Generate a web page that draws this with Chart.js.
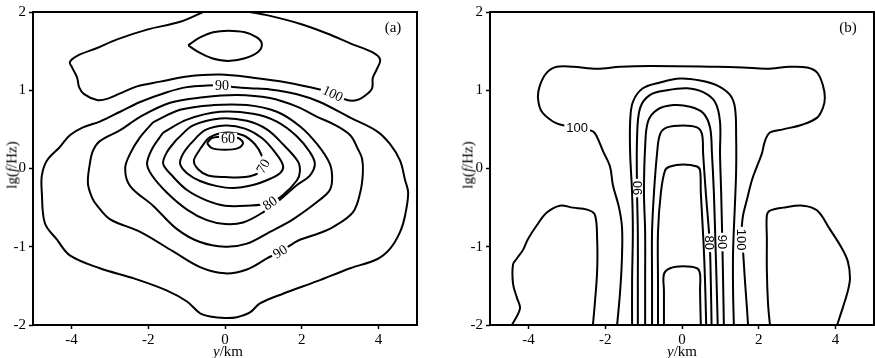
<!DOCTYPE html>
<html lang="en">
<head>
  <meta charset="UTF-8">
  <title>Contours (a) and (b)</title>
  <script src="https://cdn.jsdelivr.net/npm/chart.js"></script>
  <style>
    body { margin: 0; background: #fff; font-family: "Liberation Serif", "Times New Roman", serif; }
    #wrap { position: relative; width: 875px; height: 358px; overflow: hidden; }
    canvas { position: absolute; top: 0; }
    #chartA { left: 0; }
    #chartB { left: 437px; }
    .ttl { position: absolute; font-size: 15px; white-space: nowrap; transform: translate(-50%, -50%); color: #000; }
    .ttl.rot { transform: translate(-50%, -50%) rotate(-90deg); }
  </style>
</head>
<body>
<div id="wrap">
  <canvas id="chartA" width="437" height="358"></canvas>
  <canvas id="chartB" width="438" height="358"></canvas>
  <!-- axis titles and panel tags -->
  <div class="ttl rot" style="left:12px; top:165px;">lg(<i>f</i>/Hz)</div>
  <div class="ttl rot" style="left:468px; top:165px;">lg(<i>f</i>/Hz)</div>
  <div class="ttl" style="left:228px; top:351px;"><i>y</i>/km</div>
  <div class="ttl" style="left:682px; top:351px;"><i>y</i>/km</div>
  <div class="ttl" style="left:393px; top:27px;">(a)</div>
  <div class="ttl" style="left:848px; top:27px;">(b)</div>
</div>

<script>
  // Axis ticks (same for both panels)
  const xTicks = [-4, -2, 0, 2, 4];
  const yTicks = [-2, -1, 0, 1, 2];

  // ---- Panel (a): contour lines, points as [y km, lg f] ----
  const aBand = [[-0.57,2.0],[-1.17,1.875],[-2.03,1.775],[-2.81,1.65],[-3.33,1.54],[-3.85,1.44],[-4.04,1.36],[-3.98,1.29],
    [-3.85,1.16],[-3.80,1.04],[-3.67,0.95],[-3.33,0.875],[-3.07,0.89],[-2.73,0.96],[-2.29,1.05],[-1.69,1.11],[-0.99,1.175],
    [-0.13,1.2],[0.73,1.16],[1.61,1.10],[2.47,1.01],[2.81,0.96],[3.18,0.875],[3.44,0.875],[3.67,0.94],[3.83,1.025],[3.85,1.16],
    [3.96,1.275],[4.04,1.39],[3.88,1.475],[3.26,1.6],[2.66,1.725],[1.95,1.85],[1.09,1.96],[0.65,2.0]];
  const aCap = [[-0.96,1.575],[-0.65,1.675],[-0.31,1.74],[0.08,1.76],[0.52,1.74],[0.83,1.675],[0.96,1.59],[0.86,1.49],
    [0.52,1.41],[0.08,1.375],[-0.34,1.41],[-0.70,1.49]];
  const aOuter = [[0.21,1.04],[0.65,1.025],[1.17,1.01],[1.875,0.95],[2.47,0.85],[3.26,0.65],[3.96,0.475],[4.30,0.31],[4.56,0.10],
    [4.69,-0.15],[4.77,-0.31],[4.69,-0.60],[4.56,-0.81],[4.30,-1.025],[3.96,-1.16],[3.26,-1.275],[2.40,-1.44],[1.51,-1.60],
    [0.91,-1.725],[0.65,-1.84],[0.31,-1.90],[0.0,-1.91],[-0.39,-1.89],[-0.65,-1.85],[-0.99,-1.70],[-1.51,-1.56],[-2.40,-1.40],
    [-3.26,-1.275],[-4.04,-1.11],[-4.375,-0.91],[-4.69,-0.70],[-4.77,-0.31],[-4.77,-0.09],[-4.64,0.10],[-4.30,0.275],[-4.04,0.425],
    [-3.70,0.525],[-3.26,0.60],[-2.73,0.725],[-2.21,0.85],[-1.51,0.975],[-0.99,1.04],[-0.47,1.06],[-0.08,1.06]];
  const aRing2 = [[1.77,-0.96],[1.95,-0.91],[2.47,-0.825],[2.81,-0.75],[3.33,-0.56],[3.52,-0.31],[3.59,-0.06],[3.57,0.125],
    [3.46,0.25],[3.26,0.425],[2.81,0.57],[2.40,0.66],[1.875,0.79],[1.17,0.90],[0.31,0.94],[-0.57,0.91],[-1.43,0.84],[-2.21,0.66],
    [-2.73,0.49],[-3.26,0.35],[-3.44,0.225],[-3.52,0.06],[-3.57,-0.19],[-3.46,-0.375],[-3.33,-0.475],[-2.99,-0.65],[-2.21,-0.81],
    [-1.35,-1.06],[-0.65,-1.26],[0.0,-1.34],[0.57,-1.29],[1.09,-1.15],[1.43,-1.06]];
  const aRing3 = [[-1.875,0.59],[-1.17,0.75],[-0.31,0.81],[0.57,0.81],[1.35,0.725],[1.95,0.54],[2.40,0.31],[2.73,0.06],
    [2.79,-0.125],[2.73,-0.275],[2.47,-0.40],[1.77,-0.65],[1.17,-0.81],[0.57,-0.96],[0.0,-1.0],[-0.65,-0.94],[-1.25,-0.775],
    [-1.875,-0.475],[-2.47,-0.225],[-2.60,0.0],[-2.47,0.19],[-2.21,0.40]];
  const aRing4 = [[-1.61,0.46],[-0.99,0.625],[-0.13,0.725],[0.73,0.70],[1.35,0.60],[1.875,0.41],[2.21,0.21],[2.34,0.06],
    [2.21,-0.09],[1.875,-0.21],[1.43,-0.40],[0.99,-0.56],[0.47,-0.69],[0.0,-0.71],[-0.47,-0.66],[-0.99,-0.525],[-1.51,-0.31],
    [-1.90,-0.09],[-2.03,0.06],[-1.90,0.25]];
  const aRing5 = [[-1.25,0.375],[-0.83,0.55],[-0.13,0.64],[0.57,0.61],[1.09,0.50],[1.51,0.31],[1.90,0.09],[1.95,-0.04],
    [1.875,-0.15],[1.51,-0.34],[1.17,-0.44],[0.57,-0.475],[0.0,-0.475],[-0.47,-0.41],[-0.99,-0.275],[-1.38,-0.09],
    [-1.61,0.06],[-1.51,0.21]];
  const aRing6 = [[-0.91,0.31],[-0.52,0.49],[0.0,0.55],[0.52,0.51],[0.96,0.39],[1.30,0.21],[1.51,0.04],[1.43,-0.06],
    [1.09,-0.15],[0.73,-0.21],[0.21,-0.25],[-0.21,-0.225],[-0.65,-0.16],[-0.99,-0.06],[-1.17,0.06],[-1.09,0.19]];
  const aRing7 = [[-0.65,0.25],[-0.39,0.40],[0.05,0.46],[0.47,0.425],[0.78,0.31],[0.96,0.16],[0.99,0.04],[0.86,-0.06],
    [0.52,-0.11],[0.0,-0.11],[-0.44,-0.09],[-0.70,-0.01],[-0.81,0.10]];
  const aCore = [[-0.47,0.325],[-0.34,0.39],[0.0,0.41],[0.34,0.39],[0.47,0.325],[0.34,0.26],[0.0,0.24],[-0.34,0.26]];

  const aLabels = [
    { t: '90', x: -0.08, y: 1.06, r: 0 },
    { t: '100', x: 2.81, y: 0.96, r: 25 },
    { t: '60', x: 0.08, y: 0.38, r: 0 },
    { t: '70', x: 0.99, y: 0.03, r: -60 },
    { t: '80', x: 1.17, y: -0.44, r: -35 },
    { t: '90', x: 1.43, y: -1.06, r: -32 }
  ];

  // ---- Panel (b) ----
  const bTee = [[-1.69,-2.0],[-1.61,-1.5625],[-1.5625,-1.125],[-1.5625,-0.75],[-1.64,-0.50],[-1.80,-0.21],[-1.875,0.025],
    [-2.06,0.225],[-2.21,0.40],[-2.32,0.475],[-2.73,0.52],[-3.18,0.5625],[-3.36,0.60],[-3.65,0.725],[-3.75,0.90],[-3.70,1.0625],
    [-3.52,1.225],[-3.26,1.30],[-2.84,1.30],[-2.21,1.275],[-1.61,1.30],[-0.83,1.31],[0.91,1.30],[1.59,1.29],[2.21,1.275],
    [2.81,1.30],[3.26,1.29],[3.52,1.225],[3.67,1.0625],[3.72,0.90],[3.67,0.775],[3.52,0.65],[3.15,0.5625],[2.63,0.50],
    [2.29,0.46],[2.16,0.35],[2.08,0.19],[1.95,0.025],[1.82,-0.15],[1.69,-0.40],[1.59,-0.60],[1.55,-0.81],[1.56,-0.91],
    [1.59,-1.0625],[1.64,-1.44],[1.69,-1.775],[1.72,-2.0]];
  const bBlobL = [[-4.43,-2.0],[-4.22,-1.79],[-4.30,-1.65],[-4.40,-1.475],[-4.40,-1.225],[-4.30,-1.15],[-4.14,-1.04],
    [-4.01,-0.90],[-3.78,-0.725],[-3.52,-0.5625],[-3.18,-0.475],[-2.84,-0.50],[-2.47,-0.525],[-2.27,-0.59],[-2.21,-0.90],
    [-2.21,-1.31],[-2.27,-1.725],[-2.32,-2.0]];
  const bBlobR = [[2.29,-2.0],[2.24,-1.725],[2.21,-1.31],[2.21,-0.90],[2.21,-0.60],[2.29,-0.5375],[2.63,-0.50],[3.15,-0.475],
    [3.52,-0.5375],[3.85,-0.775],[4.17,-1.025],[4.32,-1.19],[4.375,-1.40],[4.32,-1.5625],[4.19,-1.775],[4.04,-2.0]];
  const bU1 = [[-1.30,-2.0],[-1.30,-1.44],[-1.28,-0.81],[-1.30,-0.31],[-1.35,0.19],[-1.35,0.60],[-1.28,0.85],[-1.02,1.025],
    [-0.57,1.10],[-0.05,1.15],[0.47,1.125],[0.91,1.0625],[1.25,0.94],[1.38,0.775],[1.41,0.40],[1.41,-0.025],[1.38,-0.44],
    [1.33,-1.0625],[1.33,-1.5625],[1.35,-2.0]];
  const bU2 = [[-1.15,-2.0],[-1.15,-1.44],[-1.15,-0.81],[-1.17,-0.31],[-1.17,0.40],[-1.09,0.775],[-0.83,0.94],[-0.39,1.0],
    [0.13,1.025],[0.55,0.975],[0.86,0.85],[0.99,0.60],[0.99,0.19],[1.02,-0.31],[1.05,-0.94],[1.07,-1.44],[1.09,-2.0]];
  const bU3 = [[-0.96,-2.0],[-0.96,-1.44],[-0.96,-0.81],[-0.99,-0.31],[-0.96,0.275],[-0.885,0.60],[-0.65,0.75],[-0.23,0.81],
    [0.21,0.79],[0.55,0.71],[0.73,0.525],[0.78,0.19],[0.83,-0.31],[0.87,-0.94],[0.90,-1.44],[0.93,-2.0]];
  const bU4 = [[-0.78,-2.0],[-0.78,-1.44],[-0.78,-0.81],[-0.73,-0.31],[-0.65,0.19],[-0.57,0.44],[-0.39,0.525],[0.03,0.55],
    [0.39,0.525],[0.52,0.44],[0.55,0.19],[0.62,-0.31],[0.72,-0.94],[0.75,-1.44],[0.77,-2.0]];
  const bU5 = [[-0.625,-2.0],[-0.625,-1.44],[-0.625,-0.81],[-0.55,-0.31],[-0.44,-0.025],[-0.31,0.025],[0.03,0.05],
    [0.39,0.025],[0.47,-0.025],[0.49,-0.31],[0.56,-0.94],[0.60,-1.44],[0.63,-2.0]];
  const bU6 = [[-0.47,-2.0],[-0.47,-1.5625],[-0.47,-1.35],[-0.31,-1.275],[0.03,-1.25],[0.39,-1.275],[0.47,-1.35],
    [0.47,-1.5625],[0.49,-2.0]];

  const bLabels = [
    { t: '100', x: -2.73, y: 0.52, r: 0 },
    { t: '90', x: -1.16, y: -0.25, r: -90 },
    { t: '80', x: 0.72, y: -0.95, r: 90 },
    { t: '90', x: 1.05, y: -0.94, r: 90 },
    { t: '100', x: 1.56, y: -0.91, r: 90 }
  ];

  const closeLoop = pts => pts.concat([pts[0]]);

  const aLines = [aBand, closeLoop(aCap), closeLoop(aOuter), closeLoop(aRing2), closeLoop(aRing3),
                  closeLoop(aRing4), closeLoop(aRing5), closeLoop(aRing6), closeLoop(aRing7), closeLoop(aCore)];
  const bLines = [bTee, bBlobL, bBlobR, bU1, bU2, bU3, bU4, bU5, bU6];

  // contour labels on white patches + full frame around the plot
  const contourExtras = {
    id: 'contourExtras',
    afterDatasetsDraw(chart, args, opts) {
      const { ctx, chartArea: a, scales: { x, y } } = chart;
      ctx.save();
      ctx.font = opts.font;
      ctx.textAlign = 'center';
      ctx.textBaseline = 'middle';
      opts.labels.forEach(l => {
        const px = x.getPixelForValue(l.x), py = y.getPixelForValue(l.y);
        ctx.save();
        ctx.translate(px, py);
        ctx.rotate(l.r * Math.PI / 180);
        const w = ctx.measureText(l.t).width;
        ctx.fillStyle = '#fff';
        ctx.fillRect(-w / 2 - 2, -opts.boxH / 2, w + 4, opts.boxH);
        ctx.fillStyle = '#000';
        ctx.fillText(l.t, 0, 1);
        ctx.restore();
      });
      ctx.lineWidth = 2;
      ctx.strokeStyle = '#000';
      ctx.strokeRect(a.left, a.top, a.right - a.left, a.bottom - a.top);
      ctx.restore();
    }
  };

  function makeChart(id, lines, labels, labelFont, boxH, yAxisWidth, padRight) {
    const tickFont = { family: 'Liberation Serif', size: 15 };
    const gridOpts = { drawOnChartArea: false, drawTicks: true, tickLength: 4, tickWidth: 1.5, tickColor: '#000' };
    return new Chart(document.getElementById(id), {
      type: 'scatter',
      data: {
        datasets: lines.map(pts => ({
          data: pts.map(([x, y]) => ({ x, y })),
          showLine: true,
          pointRadius: 0,
          borderColor: '#000',
          borderWidth: 2,
          tension: 0.35,
          fill: false
        }))
      },
      options: {
        responsive: false,
        animation: false,
        devicePixelRatio: 1,
        layout: { padding: { top: 5, right: padRight, left: 0, bottom: 0 } },
        plugins: {
          legend: { display: false },
          tooltip: { enabled: false },
          contourExtras: { labels: labels, font: labelFont, boxH: boxH }
        },
        scales: {
          x: {
            type: 'linear', min: -5, max: 5,
            afterBuildTicks: s => { s.ticks = xTicks.map(v => ({ value: v })); },
            afterFit: s => { s.height = 33; },
            grid: gridOpts,
            border: { display: false },
            ticks: { color: '#000', font: tickFont, padding: 2, maxRotation: 0, callback: v => String(v) }
          },
          y: {
            type: 'linear', min: -2, max: 2,
            afterBuildTicks: s => { s.ticks = yTicks.map(v => ({ value: v })); },
            afterFit: s => { s.width = yAxisWidth; },
            grid: gridOpts,
            border: { display: false },
            ticks: { color: '#000', font: tickFont, padding: 3, callback: v => String(v) }
          }
        }
      },
      plugins: [contourExtras]
    });
  }

  makeChart('chartA', aLines, aLabels, '14px "Liberation Serif"', 12, 33, 20);
  makeChart('chartB', bLines, bLabels, '13px "Liberation Sans"', 8, 53, 1);
</script>
</body>
</html>
